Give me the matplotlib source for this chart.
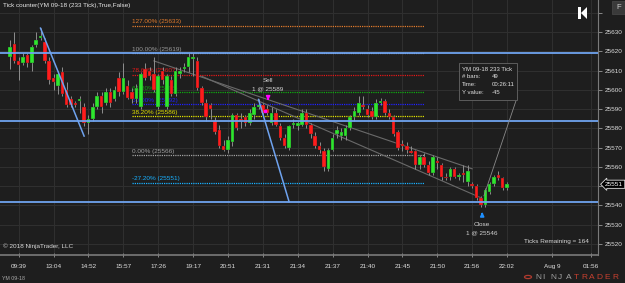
import matplotlib
matplotlib.use("Agg")
import matplotlib.pyplot as plt
from matplotlib.patches import Rectangle, Polygon, Circle

plt.rcParams['font.family'] = ['Liberation Sans', 'DejaVu Sans']

# свічки YM 09-18 (233 Tick)
opens = [25617, 25624, 25615, 25614, 25618, 25614, 25623, 25627, 25625, 25615,
         25606, 25602, 25609, 25600, 25595, 25593, 25594, 25591, 25583, 25585,
         25591, 25597, 25593, 25599, 25595, 25606, 25599, 25602, 25599, 25595,
         25591, 25611, 25610, 25608, 25591, 25610, 25591, 25605, 25598, 25608,
         25611, 25612, 25616, 25615, 25601, 25593, 25592, 25584, 25579, 25571,
         25569, 25573, 25587, 25585, 25586, 25583, 25587, 25591, 25592, 25590,
         25583, 25588, 25581, 25575, 25570, 25582, 25581, 25582, 25588, 25582,
         25576, 25571, 25568, 25559, 25569, 25577, 25576, 25576, 25580, 25586,
         25588, 25592, 25590, 25589, 25586, 25593, 25594, 25588, 25586, 25578,
         25572, 25571, 25568, 25568, 25561, 25565, 25561, 25557, 25563, 25561,
         25555, 25555, 25559, 25555, 25557, 25552, 25551, 25550, 25544, 25540,
         25547, 25551, 25556, 25554, 25549]
highs = [25626, 25630, 25617, 25619, 25619, 25623, 25630, 25632, 25627, 25617,
         25608, 25610, 25612, 25604, 25597, 25594, 25597, 25593, 25587, 25593,
         25599, 25599, 25601, 25601, 25602, 25609, 25614, 25605, 25601, 25603,
         25609, 25614, 25612, 25617, 25608, 25612, 25608, 25607, 25612, 25612,
         25614, 25619, 25619, 25617, 25602, 25595, 25593, 25586, 25582, 25574,
         25576, 25588, 25588, 25588, 25587, 25590, 25593, 25595, 25593, 25592,
         25591, 25590, 25583, 25577, 25582, 25585, 25584, 25590, 25590, 25583,
         25578, 25573, 25570, 25570, 25577, 25581, 25580, 25582, 25587, 25591,
         25597, 25597, 25592, 25591, 25595, 25596, 25595, 25590, 25587, 25579,
         25574, 25573, 25571, 25569, 25566, 25567, 25563, 25566, 25565, 25562,
         25557, 25560, 25560, 25557, 25561, 25561, 25552, 25551, 25545, 25549,
         25552, 25556, 25558, 25555, 25552]
lows = [25611, 25614, 25605, 25613, 25612, 25610, 25622, 25626, 25614, 25603,
        25600, 25598, 25597, 25591, 25591, 25591, 25588, 25581, 25577, 25584,
        25590, 25588, 25592, 25591, 25594, 25597, 25598, 25595, 25593, 25593,
        25590, 25605, 25605, 25599, 25590, 25603, 25590, 25597, 25597, 25606,
        25609, 25609, 25607, 25600, 25592, 25584, 25585, 25577, 25570, 25568,
        25567, 25571, 25579, 25580, 25581, 25582, 25585, 25590, 25586, 25587,
        25582, 25581, 25574, 25570, 25569, 25580, 25579, 25581, 25580, 25575,
        25570, 25567, 25558, 25558, 25568, 25575, 25574, 25574, 25579, 25584,
        25587, 25590, 25586, 25585, 25585, 25592, 25587, 25585, 25576, 25569,
        25568, 25567, 25567, 25559, 25559, 25560, 25556, 25556, 25559, 25553,
        25553, 25553, 25554, 25553, 25552, 25550, 25549, 25543, 25539, 25539,
        25546, 25550, 25553, 25548, 25548]
closes = [25622, 25615, 25613, 25617, 25614, 25622, 25626, 25628, 25615, 25605,
          25604, 25608, 25598, 25592, 25592, 25592, 25595, 25583, 25585, 25591,
          25597, 25591, 25599, 25593, 25600, 25599, 25606, 25596, 25595, 25601,
          25608, 25606, 25607, 25600, 25607, 25605, 25607, 25598, 25610, 25610,
          25612, 25617, 25617, 25601, 25593, 25586, 25590, 25578, 25571, 25569,
          25574, 25587, 25580, 25584, 25583, 25588, 25591, 25592, 25588, 25588,
          25588, 25582, 25575, 25571, 25581, 25583, 25583, 25588, 25582, 25577,
          25571, 25569, 25560, 25569, 25575, 25579, 25578, 25580, 25586, 25589,
          25593, 25591, 25587, 25586, 25593, 25594, 25588, 25586, 25577, 25570,
          25571, 25569, 25567, 25561, 25565, 25561, 25557, 25565, 25562, 25555,
          25554, 25559, 25555, 25556, 25556, 25558, 25550, 25544, 25540, 25548,
          25551, 25555, 25554, 25549, 25551]

tick_bars = [2, 10, 18, 26, 34, 42, 50, 58, 66, 74, 82, 90, 98, 106, 114, 124.3, 133.3]
tick_labels = ['09:39', '13:04', '14:52', '15:57', '17:26', '19:17', '20:51', '21:31',
               '21:34', '21:37', '21:40', '21:45', '21:50', '21:56', '22:02', 'Aug 9', '01:56']
price_ticks = list(range(25520, 25641, 10))

# фібоначчі
fib_low, fib_high = 25566, 25619
fib_levels = [1.27, 1.0, 0.786, 0.618, 0.5, 0.382, 0.0, -0.272]
fib_colors = ['#e07a2c', '#9a9a9a', '#e01818', '#10a810', '#2020ff', '#e0e000', '#a0a0a0', '#18b0ff']
fib_start, fib_end = 28, 95

blue_levels = [25619, 25584, 25542]
blue_trends = [((7, 25632), (17, 25576)), ((57, 25595), (64, 25542))]
gray_trends = [((33, 25615), (106, 25559)), ((44, 25607), (108, 25544))]
measure_line = ((108.7, 25545), (116.3, 25596))

sell_bar, sell_price = 59, 25589
close_bar, close_price = 108, 25546
last_price = 25551

bg = '#1e1e1e'
grid_c = '#2f2f2f'
up_c = '#2ee62e'
dn_c = '#ff1c1c'
wick_c = '#8e8e8e'
W, H = 625, 283


def px(x, y):
    return x / W, 1 - y / H


fig = plt.figure(figsize=(6.25, 2.83), dpi=100, facecolor=bg)
ax = fig.add_axes([0, 28 / H, 598 / W, 255 / H])
ax.set_facecolor(bg)
ax.set_xlim(-2.29, 134.86)
ax.set_ylim(25514.3, 25646.6)

# осі
ax.yaxis.tick_right()
ax.set_yticks(price_ticks)
ax.set_yticklabels(['' if p in (25550, 25640) else str(p) for p in price_ticks])
ax.set_xticks(tick_bars)
ax.set_xticklabels(tick_labels)
ax.tick_params(axis='y', colors='#888888', labelcolor='#dddddd', labelsize=4.6,
               length=3, width=0.7, pad=2)
ax.tick_params(axis='x', colors='#888888', labelcolor='#e0e0e0', labelsize=4.6,
               length=3, width=0.7, direction='inout', pad=5)
for s in ['top', 'left']:
    ax.spines[s].set_visible(False)
ax.spines['right'].set_color('#7a7a7a')
ax.spines['bottom'].set_color('#7a7a7a')
ax.spines['bottom'].set_linewidth(1.2)
ax.grid(color=grid_c, lw=0.8)
ax.set_axisbelow(True)

# горизонтальні лінії
for p in blue_levels:
    ax.axhline(p, color='#6fa3ef', lw=1.3, zorder=5)

# фібо рівні
for lvl, col in zip(fib_levels, fib_colors):
    price = fib_low + lvl * (fib_high - fib_low)
    ax.hlines(price, fib_start, fib_end, colors=col, linestyles=(0, (1, 0.8)), lw=0.9, zorder=2)
    ax.annotate('%.2f%% (%d)' % (lvl * 100, int(price)), (fib_start, price),
                xytext=(0, 1.2), textcoords='offset points', color=col,
                fontsize=4.6, va='bottom', ha='left', zorder=2)

# трендові лінії
for (a, b) in gray_trends:
    ax.plot([a[0], b[0]], [a[1], b[1]], color='#6a6a6a', lw=0.8, zorder=2)
for (a, b) in blue_trends:
    ax.plot([a[0], b[0]], [a[1], b[1]], color='#6fa3ef', lw=1.1, zorder=6)
ax.plot([measure_line[0][0], measure_line[1][0]], [measure_line[0][1], measure_line[1][1]],
        color='#8a8a8a', lw=0.6, zorder=6)

# свічки
for i, (o, h, l, c) in enumerate(zip(opens, highs, lows, closes)):
    ax.vlines(i, l, h, color=wick_c, lw=0.7, zorder=3)
    if c == o:
        ax.hlines(o, i - 0.4, i + 0.4, color=wick_c, lw=0.8, zorder=4)
    else:
        col = up_c if c > o else dn_c
        ax.add_patch(Rectangle((i - 0.4, min(o, c)), 0.8, abs(c - o), facecolor=col,
                               edgecolor='#202020', lw=0.25, zorder=4))

# угоди
sh = highs[sell_bar]
ax.annotate('', xy=(sell_bar + 0.2, sh + 1), xytext=(sell_bar + 0.2, sh + 5.5),
            arrowprops=dict(arrowstyle='-|>', color='#ff00ff', lw=1.3, mutation_scale=5), zorder=7)
ax.plot(sell_bar - 0.4, sell_price, marker='s', ms=1.8, color='#ff00ff', zorder=7)
ax.text(sell_bar + 0.2, sh + 12.6, 'Sell', color='#d0d0d0', fontsize=4.6, ha='center', va='center')
ax.text(sell_bar + 0.2, sh + 8.4, '1 @ %d' % sell_price, color='#d0d0d0', fontsize=4.6,
        ha='center', va='center')

cl = lows[close_bar]
ax.annotate('', xy=(close_bar + 0.3, cl - 1), xytext=(close_bar + 0.3, cl - 5.5),
            arrowprops=dict(arrowstyle='-|>', color='#1e90ff', lw=1.3, mutation_scale=5), zorder=7)
ax.text(close_bar + 0.3, cl - 9, 'Close', color='#d0d0d0', fontsize=4.6, ha='center', va='center')
ax.text(close_bar + 0.3, cl - 13.3, '1 @ %d' % close_price, color='#d0d0d0', fontsize=4.6,
        ha='center', va='center')

# остання ціна
ax.text(1.012, last_price, str(last_price), transform=ax.get_yaxis_transform(),
        color='white', fontsize=4.6, va='center', ha='left', clip_on=False, zorder=10,
        bbox=dict(boxstyle='larrow,pad=0.25', fc='black', ec='#e0e0e0', lw=0.6))

# тексти
fig.text(*px(3, 6), 'Tick counter(YM 09-18 (233 Tick),True,False)', color='#e8e8e8',
         fontsize=4.6, va='center', ha='left')
fig.text(*px(3, 246), '\u00a9 2018 NinjaTrader, LLC', color='#d8d8d8', fontsize=4.6,
         va='center', ha='left')
fig.text(*px(589, 242), 'Ticks Remaining = 164', color='#d8d8d8', fontsize=4.6,
         va='center', ha='right')
fig.text(*px(2, 278), 'YM 09-18', color='#aaaaaa', fontsize=3.8, va='center', ha='left')

# підказка
x0, y0 = px(459, 100)
x1, y1 = px(517, 63)
fig.patches.append(Rectangle((x0, y0), x1 - x0, y1 - y0, transform=fig.transFigure,
                             fc=bg, ec='#666666', lw=0.6, zorder=8))
rows = [('YM 09-18 233 Tick', ''), ('# bars:', '49'), ('Time:', '00:26:11'), ('Y value:', '-45')]
for k, (a, b) in enumerate(rows):
    yy = 69.3 + k * 7.7
    fig.text(*px(462, yy), a, color='#e0e0e0', fontsize=4.3, va='center', ha='left', zorder=9)
    if b:
        fig.text(*px(492, yy), b, color='#e0e0e0', fontsize=4.3, va='center', ha='left', zorder=9)

# кнопки
bx0, by0 = px(612, 14)
bx1, by1 = px(625, 1)
fig.patches.append(Rectangle((bx0, by0), bx1 - bx0, by1 - by0, transform=fig.transFigure,
                             fc='#3a3a3a', ec='#4a4a4a', lw=0.5))
fig.text(*px(618.5, 7.5), 'F', color='#cfcfcf', fontsize=5.5, va='center', ha='center')
fig.patches.append(Polygon([px(578, 7), px(580.5, 7), px(580.5, 19), px(578, 19)],
                           closed=True, transform=fig.transFigure, fc='white', ec='none'))
fig.patches.append(Polygon([px(587, 7), px(581, 13), px(587, 19)],
                           closed=True, transform=fig.transFigure, fc='white', ec='none'))

# логотип
fig.patches.append(Circle(px(528, 277), 3.5 / W, transform=fig.transFigure, fc='none',
                          ec='#b03a2e', lw=0.9))
for k, ch in enumerate('NINJATRADER'):
    fig.text(*px(535 + k * 7.7, 277.5), ch, color='#a0a0a0' if k < 5 else '#c8402f',
             fontsize=6, va='center', ha='left')

fig.savefig('out.png', dpi=100, facecolor=bg)
